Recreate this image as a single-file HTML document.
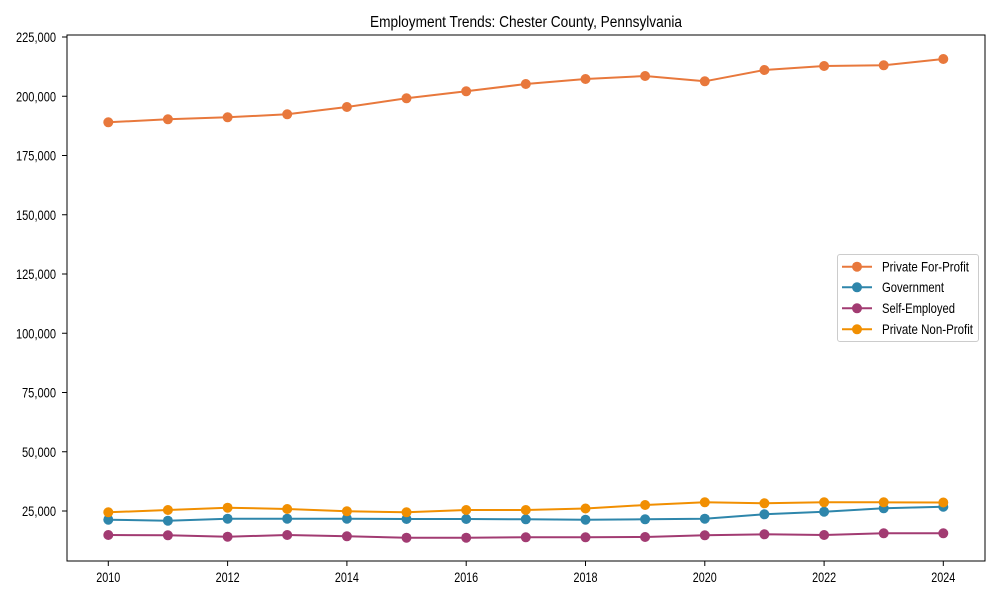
<!DOCTYPE html>
<html><head><meta charset="utf-8"><style>
html,body{margin:0;padding:0;background:#fff;}
svg{display:block;font-family:"Liberation Sans",Arial,sans-serif;}
</style></head><body>
<svg width="1000" height="600" viewBox="0 0 1000 600" xmlns="http://www.w3.org/2000/svg">
<rect width="1000" height="600" fill="#fff"/>
<text x="526" y="27" font-size="15.5" text-anchor="middle" textLength="312" lengthAdjust="spacingAndGlyphs" fill="#000">Employment Trends: Chester County, Pennsylvania</text>

<!-- y ticks -->
<g stroke="#000" stroke-width="1">
<line x1="62" y1="511" x2="67" y2="511"/>
<line x1="62" y1="451.75" x2="67" y2="451.75"/>
<line x1="62" y1="392.5" x2="67" y2="392.5"/>
<line x1="62" y1="333.25" x2="67" y2="333.25"/>
<line x1="62" y1="274" x2="67" y2="274"/>
<line x1="62" y1="214.75" x2="67" y2="214.75"/>
<line x1="62" y1="155.5" x2="67" y2="155.5"/>
<line x1="62" y1="96.25" x2="67" y2="96.25"/>
<line x1="62" y1="37" x2="67" y2="37"/>
</g>
<g font-size="14" text-anchor="end" fill="#000">
<text x="56" y="516" textLength="34" lengthAdjust="spacingAndGlyphs">25,000</text>
<text x="56" y="456.75" textLength="34" lengthAdjust="spacingAndGlyphs">50,000</text>
<text x="56" y="397.5" textLength="34" lengthAdjust="spacingAndGlyphs">75,000</text>
<text x="56" y="338.25" textLength="40" lengthAdjust="spacingAndGlyphs">100,000</text>
<text x="56" y="279" textLength="40" lengthAdjust="spacingAndGlyphs">125,000</text>
<text x="56" y="219.75" textLength="40" lengthAdjust="spacingAndGlyphs">150,000</text>
<text x="56" y="160.5" textLength="40" lengthAdjust="spacingAndGlyphs">175,000</text>
<text x="56" y="101.25" textLength="40" lengthAdjust="spacingAndGlyphs">200,000</text>
<text x="56" y="42" textLength="40" lengthAdjust="spacingAndGlyphs">225,000</text>
</g>

<!-- x ticks -->
<g stroke="#000" stroke-width="1">
<line x1="108.3" y1="561" x2="108.3" y2="566"/>
<line x1="227.6" y1="561" x2="227.6" y2="566"/>
<line x1="346.9" y1="561" x2="346.9" y2="566"/>
<line x1="466.2" y1="561" x2="466.2" y2="566"/>
<line x1="585.5" y1="561" x2="585.5" y2="566"/>
<line x1="704.8" y1="561" x2="704.8" y2="566"/>
<line x1="824.1" y1="561" x2="824.1" y2="566"/>
<line x1="943.3" y1="561" x2="943.3" y2="566"/>
</g>
<g font-size="14" text-anchor="middle" fill="#000">
<text x="108.3" y="582" textLength="24" lengthAdjust="spacingAndGlyphs">2010</text>
<text x="227.6" y="582" textLength="24" lengthAdjust="spacingAndGlyphs">2012</text>
<text x="346.9" y="582" textLength="24" lengthAdjust="spacingAndGlyphs">2014</text>
<text x="466.2" y="582" textLength="24" lengthAdjust="spacingAndGlyphs">2016</text>
<text x="585.5" y="582" textLength="24" lengthAdjust="spacingAndGlyphs">2018</text>
<text x="704.8" y="582" textLength="24" lengthAdjust="spacingAndGlyphs">2020</text>
<text x="824.1" y="582" textLength="24" lengthAdjust="spacingAndGlyphs">2022</text>
<text x="943.3" y="582" textLength="24" lengthAdjust="spacingAndGlyphs">2024</text>
</g>

<!-- series -->
<g fill="none" stroke-width="2" stroke-linejoin="round">
<polyline stroke="#E8783C" points="108.3,122.3 167.9,119.3 227.6,117.3 287.2,114.3 346.9,107 406.5,98.3 466.2,91.3 525.8,84 585.5,79 645.1,76 704.8,81.3 764.4,70 824.1,66 883.7,65.3 943.3,59"/>
<polyline stroke="#2E86AB" points="108.3,519.7 167.9,520.7 227.6,518.7 287.2,518.7 346.9,518.7 406.5,519 466.2,519 525.8,519.3 585.5,519.7 645.1,519.3 704.8,518.7 764.4,514.3 824.1,511.7 883.7,508.3 943.3,506.7"/>
<polyline stroke="#A23B72" points="108.3,535 167.9,535.3 227.6,536.7 287.2,535 346.9,536.3 406.5,537.7 466.2,537.7 525.8,537.3 585.5,537.3 645.1,537 704.8,535.3 764.4,534.3 824.1,535 883.7,533.3 943.3,533.3"/>
<polyline stroke="#F18F01" points="108.3,512.3 167.9,510 227.6,507.7 287.2,509 346.9,511.3 406.5,512.3 466.2,510 525.8,510 585.5,508.5 645.1,505 704.8,502.3 764.4,503.3 824.1,502.3 883.7,502.3 943.3,502.5"/>
</g>
<g fill="#E8783C">
<circle cx="108.3" cy="122.3" r="5"/><circle cx="167.9" cy="119.3" r="5"/><circle cx="227.6" cy="117.3" r="5"/><circle cx="287.2" cy="114.3" r="5"/><circle cx="346.9" cy="107" r="5"/><circle cx="406.5" cy="98.3" r="5"/><circle cx="466.2" cy="91.3" r="5"/><circle cx="525.8" cy="84" r="5"/><circle cx="585.5" cy="79" r="5"/><circle cx="645.1" cy="76" r="5"/><circle cx="704.8" cy="81.3" r="5"/><circle cx="764.4" cy="70" r="5"/><circle cx="824.1" cy="66" r="5"/><circle cx="883.7" cy="65.3" r="5"/><circle cx="943.3" cy="59" r="5"/>
</g>
<g fill="#2E86AB">
<circle cx="108.3" cy="519.7" r="5"/><circle cx="167.9" cy="520.7" r="5"/><circle cx="227.6" cy="518.7" r="5"/><circle cx="287.2" cy="518.7" r="5"/><circle cx="346.9" cy="518.7" r="5"/><circle cx="406.5" cy="519" r="5"/><circle cx="466.2" cy="519" r="5"/><circle cx="525.8" cy="519.3" r="5"/><circle cx="585.5" cy="519.7" r="5"/><circle cx="645.1" cy="519.3" r="5"/><circle cx="704.8" cy="518.7" r="5"/><circle cx="764.4" cy="514.3" r="5"/><circle cx="824.1" cy="511.7" r="5"/><circle cx="883.7" cy="508.3" r="5"/><circle cx="943.3" cy="506.7" r="5"/>
</g>
<g fill="#A23B72">
<circle cx="108.3" cy="535" r="5"/><circle cx="167.9" cy="535.3" r="5"/><circle cx="227.6" cy="536.7" r="5"/><circle cx="287.2" cy="535" r="5"/><circle cx="346.9" cy="536.3" r="5"/><circle cx="406.5" cy="537.7" r="5"/><circle cx="466.2" cy="537.7" r="5"/><circle cx="525.8" cy="537.3" r="5"/><circle cx="585.5" cy="537.3" r="5"/><circle cx="645.1" cy="537" r="5"/><circle cx="704.8" cy="535.3" r="5"/><circle cx="764.4" cy="534.3" r="5"/><circle cx="824.1" cy="535" r="5"/><circle cx="883.7" cy="533.3" r="5"/><circle cx="943.3" cy="533.3" r="5"/>
</g>
<g fill="#F18F01">
<circle cx="108.3" cy="512.3" r="5"/><circle cx="167.9" cy="510" r="5"/><circle cx="227.6" cy="507.7" r="5"/><circle cx="287.2" cy="509" r="5"/><circle cx="346.9" cy="511.3" r="5"/><circle cx="406.5" cy="512.3" r="5"/><circle cx="466.2" cy="510" r="5"/><circle cx="525.8" cy="510" r="5"/><circle cx="585.5" cy="508.5" r="5"/><circle cx="645.1" cy="505" r="5"/><circle cx="704.8" cy="502.3" r="5"/><circle cx="764.4" cy="503.3" r="5"/><circle cx="824.1" cy="502.3" r="5"/><circle cx="883.7" cy="502.3" r="5"/><circle cx="943.3" cy="502.5" r="5"/>
</g>

<!-- axes frame -->
<rect x="67" y="35" width="918" height="526" fill="none" stroke="#000" stroke-width="1"/>

<!-- legend -->
<rect x="837.5" y="254.5" width="141" height="87" rx="2.5" fill="#fff" fill-opacity="0.8" stroke="#ccc" stroke-width="1"/>
<g stroke-width="2">
<line x1="842" y1="266.7" x2="872" y2="266.7" stroke="#E8783C"/>
<line x1="842" y1="287.3" x2="872" y2="287.3" stroke="#2E86AB"/>
<line x1="842" y1="308.3" x2="872" y2="308.3" stroke="#A23B72"/>
<line x1="842" y1="329.3" x2="872" y2="329.3" stroke="#F18F01"/>
</g>
<circle cx="857" cy="266.7" r="5" fill="#E8783C"/>
<circle cx="857" cy="287.3" r="5" fill="#2E86AB"/>
<circle cx="857" cy="308.3" r="5" fill="#A23B72"/>
<circle cx="857" cy="329.3" r="5" fill="#F18F01"/>
<g font-size="14" fill="#000">
<text x="882" y="271.5" textLength="87" lengthAdjust="spacingAndGlyphs">Private For-Profit</text>
<text x="882" y="292" textLength="62" lengthAdjust="spacingAndGlyphs">Government</text>
<text x="882" y="313" textLength="73" lengthAdjust="spacingAndGlyphs">Self-Employed</text>
<text x="882" y="334" textLength="91" lengthAdjust="spacingAndGlyphs">Private Non-Profit</text>
</g>
</svg>
</body></html>
